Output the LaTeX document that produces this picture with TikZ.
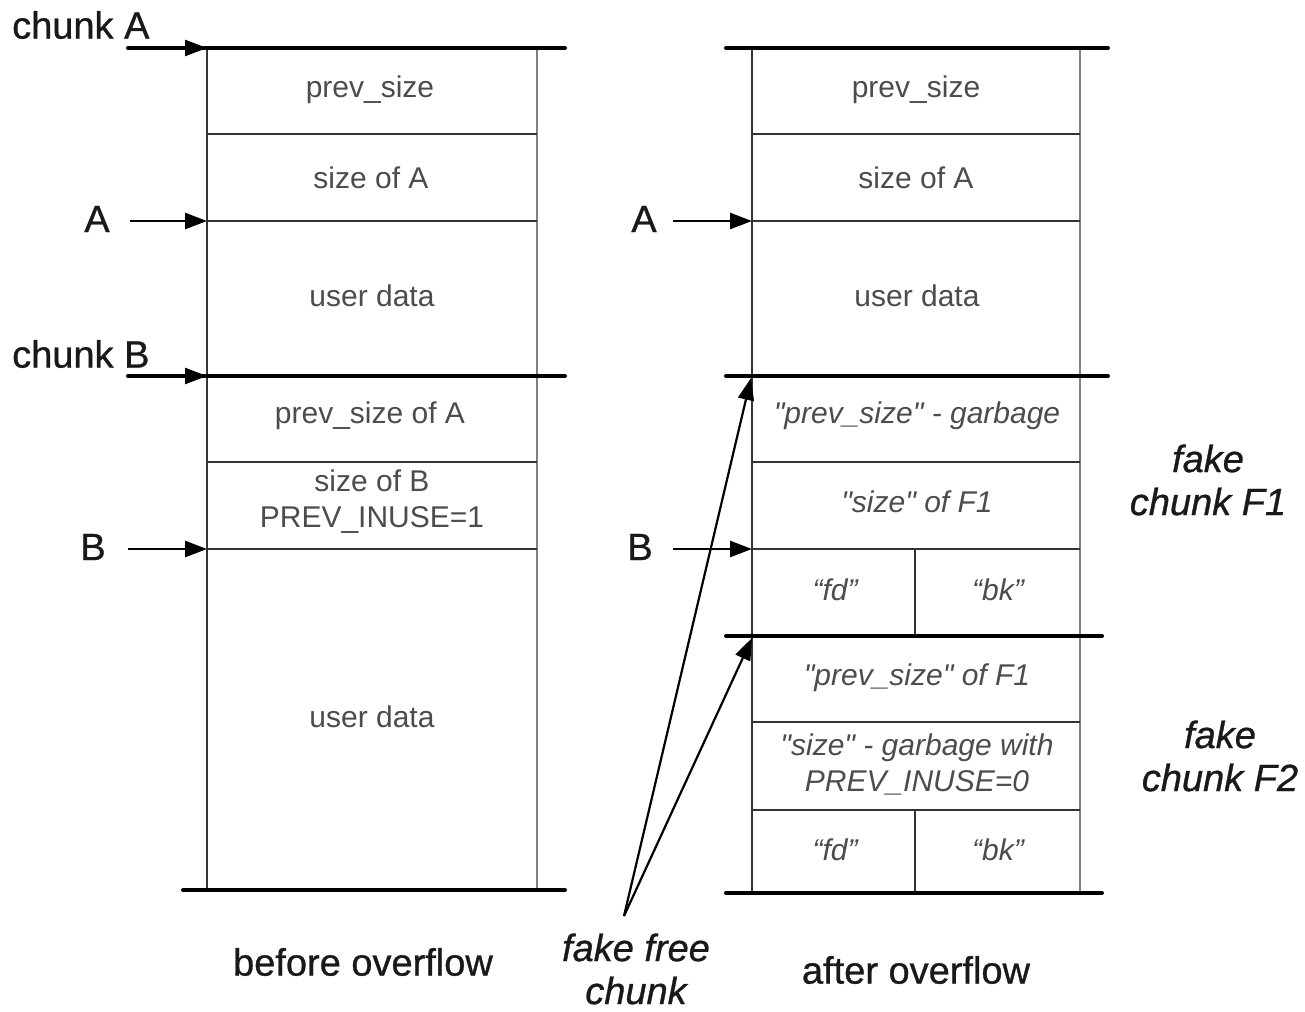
\documentclass[tikz,border=0pt]{standalone}
\usepackage{fontspec}
\setmainfont{Liberation Sans}
\newfontfamily\heavysans[FakeBold=0.8]{Liberation Sans}
\usetikzlibrary{arrows.meta}
\newcommand{\dq}{\textquotedbl}
\tikzset{
  bound/.style={line width=4pt, line cap=round},
  cellrule/.style={line width=1.6pt, black!80},
  farside/.style={line width=1.6pt, black!50},
  ptr/.style={-{Triangle[length=22pt,width=16pt]}, line width=2.6pt},
  cell/.style={inner sep=0pt, text=black!70, align=center,
    font=\fontsize{30}{36}\selectfont},
  icell/.style={cell, font=\fontsize{30}{36}\selectfont\itshape},
  tag/.style={inner sep=0pt, align=center, text=black!90,
    font=\heavysans\fontsize{38}{43}\selectfont},
  itag/.style={tag, font=\heavysans\fontsize{38}{43}\selectfont\itshape},
}
\begin{document}
\begin{tikzpicture}[x=1pt, y=-1pt]
\useasboundingbox (0,0) rectangle (1305,1011);

% ---------- before overflow ----------
\draw[cellrule] (207,48) -- (207,890);
\draw[farside] (537,48) -- (537,890);
\draw[cellrule] (207,134) -- (537,134);
\draw[cellrule] (207,221) -- (537,221);
\draw[cellrule] (207,462) -- (537,462);
\draw[cellrule] (207,549) -- (537,549);
\draw[bound] (128,48) -- (565,48);
\draw[bound] (128,376) -- (565,376);
\draw[bound] (183,890) -- (565,890);

\node[cell] (l1) at (370,90) {prev\_size};
\node[cell] (l2) at (371,178) {size of A};
\node[cell] (l3) at (372,296) {user data};
\node[cell] (l4) at (370,416) {prev\_size of A};
\node[cell] (l5) at (372,502) {size of B\\PREV\_INUSE=1};
\node[cell] (l6) at (372,717) {user data};

\node[tag, anchor=west] (chA) at (12,25) {chunk A};
\node[tag] (pA) at (97,219) {A};
\node[tag, anchor=west] (chB) at (12,354) {chunk B};
\node[tag] (pB) at (93,547) {B};

\coordinate (chAs) at (128,48);  \coordinate (chAe) at (207,48);
\coordinate (pAs)  at (130,221); \coordinate (pAe)  at (207,221);
\coordinate (chBs) at (128,376); \coordinate (chBe) at (207,376);
\coordinate (pBs)  at (128,549); \coordinate (pBe)  at (207,549);
\draw[ptr] (chAs) -- (chAe);
\draw[ptr] (pAs) -- (pAe);
\draw[ptr] (chBs) -- (chBe);
\draw[ptr] (pBs) -- (pBe);

\node[tag] (before) at (363,962) {before overflow};

% ---------- after overflow ----------
\draw[cellrule] (752,48) -- (752,893);
\draw[farside] (1080,48) -- (1080,893);
\draw[cellrule] (752,134) -- (1080,134);
\draw[cellrule] (752,221) -- (1080,221);
\draw[cellrule] (752,462) -- (1080,462);
\draw[cellrule] (752,549) -- (1080,549);
\draw[cellrule] (915,549) -- (915,636);
\draw[cellrule] (752,722) -- (1080,722);
\draw[cellrule] (752,810) -- (1080,810);
\draw[cellrule] (915,810) -- (915,893);
\draw[bound] (726,48) -- (1108,48);
\draw[bound] (726,376) -- (1108,376);
\draw[bound] (726,636) -- (1102,636);
\draw[bound] (726,893) -- (1102,893);

\node[cell] (r1) at (916,90) {prev\_size};
\node[cell] (r2) at (916,178) {size of A};
\node[cell] (r3) at (917,296) {user data};
\node[icell] (r4) at (917,416) {\dq prev\_size\dq{} - garbage};
\node[icell] (r5) at (917,502) {\dq size\dq{} of F1};
\node[icell] (r6) at (835,590) {“fd”};
\node[icell] (r7) at (998,590) {“bk”};
\node[icell] (r8) at (917,678) {\dq prev\_size\dq{} of F1};
\node[icell] (r9) at (917,764) {\dq size\dq{} - garbage with\\PREV\_INUSE=0};
\node[icell] (r10) at (835,850) {“fd”};
\node[icell] (r11) at (998,850) {“bk”};

\node[tag] (qA) at (644,219) {A};
\node[tag] (qB) at (640,547) {B};
\coordinate (qAs) at (673,221); \coordinate (qAe) at (752,221);
\coordinate (qBs) at (673,549); \coordinate (qBe) at (752,549);
\draw[ptr] (qAs) -- (qAe);
\draw[ptr] (qBs) -- (qBe);

\node[itag] (f1) at (1208,480) {fake\\chunk F1};
\node[itag] (f2) at (1220,756) {fake\\chunk F2};
\node[itag] (ffc) at (636,969) {fake free\\chunk};
\node[tag] (after) at (916,970) {after overflow};

% fake free chunk pointers
\coordinate (ffs) at (624,916);
\coordinate (ff1) at (751,378);
\coordinate (ff2) at (752,638);
\draw[ptr, line width=2.2pt] (ffs) -- (ff1);
\draw[ptr, line width=2.2pt] (ffs) -- (ff2);
\end{tikzpicture}
\end{document}
